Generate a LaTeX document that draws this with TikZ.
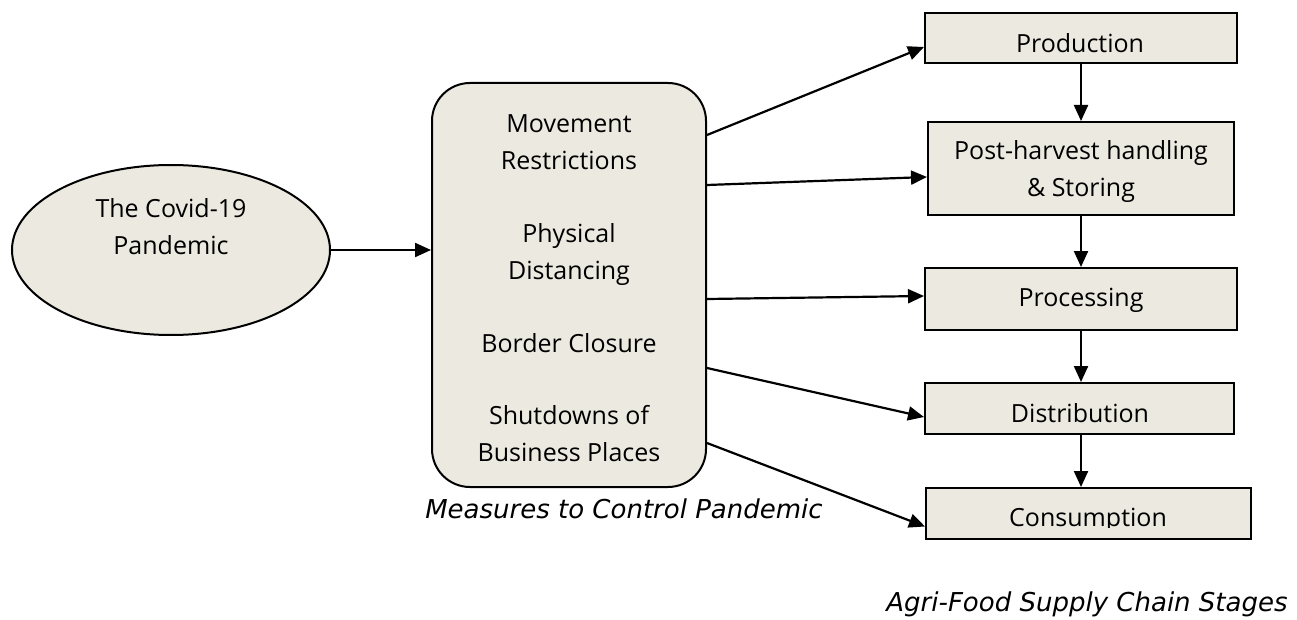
\documentclass[tikz,border=0pt]{standalone}
\usepackage{fontspec}
\setmainfont{Open Sans}
\newfontfamily\capfont{DejaVu Sans}
\usetikzlibrary{shapes.geometric,arrows.meta}
\definecolor{boxfill}{RGB}{236,234,224}
\tikzset{
  bodytext/.style={font=\fontsize{25}{37}\selectfont, align=center, inner sep=0pt},
  captext/.style={font=\capfont\itshape\fontsize{26}{30}\selectfont, inner sep=0pt},
  stagebox/.style={draw=black, line width=2pt, fill=boxfill, inner sep=0pt},
  conn/.style={line width=2.2pt, -{Triangle[length=16pt,width=14pt]}},
}
\begin{document}
\begin{tikzpicture}[x=1pt,y=-1pt]
\useasboundingbox (0,0) rectangle (1297,620);
% ellipse
\node[ellipse, draw=black, line width=2pt, fill=boxfill, minimum width=318pt, minimum height=170pt, inner sep=0pt] (cov) at (171,250) {};
\node[bodytext] (covt) at (171,226.5) {The Covid-19\\Pandemic};
% measures box
\node[draw=black, line width=2pt, fill=boxfill, rounded corners=38pt, minimum width=274pt, minimum height=404pt, inner sep=0pt] (meas) at (569,285) {};
\node[bodytext] (meast) at (569,288.5) {Movement\\Restrictions\\[36pt]Physical\\Distancing\\[36pt]Border Closure\\[35pt]Shutdowns of\\Business Places};
\node[captext] (mcap) at (624,509) {Measures to Control Pandemic};
% stage boxes
\node[stagebox, minimum width=312pt, minimum height=50pt] (prod) at (1081,38) {};
\node[bodytext] (prodt) at (1080,43) {Production};
\node[stagebox, minimum width=306pt, minimum height=93pt] (post) at (1081,168.5) {};
\node[bodytext] (postt) at (1081,171.5) {Post-harvest handling\\\& Storing};
\node[stagebox, minimum width=312pt, minimum height=62pt] (proc) at (1081,299) {};
\node[bodytext] (proct) at (1081,300) {Processing};
\node[stagebox, minimum width=309pt, minimum height=51pt] (dist) at (1079.5,408.5) {};
\node[bodytext] (distt) at (1080,413) {Distribution};
\node[stagebox, minimum width=325pt, minimum height=51pt] (cons) at (1088.5,513.5) {};
\begin{scope}
\clip (926,488) rectangle (1251,527);
\node[bodytext] (const) at (1088,520) {Consumption};
\end{scope}
\node[captext] (scap) at (1087,604) {Agri-Food Supply Chain Stages};
% connectors
\draw[conn] (cov.east) -- (meas.west |- cov.east);
\draw[conn] (meas.east |- 0,135) -- ([yshift=-9pt]prod.west);
\draw[conn] (meas.east |- 0,185) -- ([yshift=-8.5pt]post.west);
\draw[conn] (meas.east |- 0,299) -- ([yshift=3pt]proc.west);
\draw[conn] (meas.east |- 0,368) -- ([yshift=-8.5pt]dist.west);
\draw[conn] (meas.east |- 0,443) -- ([yshift=-13pt]cons.west);
\draw[conn] (prod.south) -- (prod.south |- post.north);
\draw[conn] (post.south) -- (post.south |- proc.north);
\draw[conn] (proc.south) -- (proc.south |- dist.north);
\draw[conn] (proc.south |- dist.south) -- (proc.south |- cons.north);
\end{tikzpicture}
\end{document}
